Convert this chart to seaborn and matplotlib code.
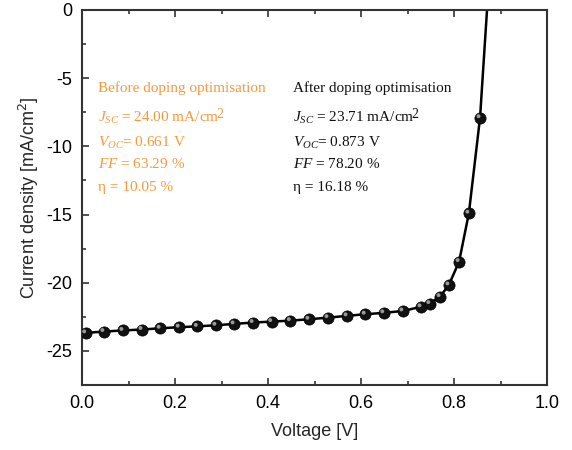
import numpy as np
import pandas as pd
import matplotlib
matplotlib.use("Agg")
import matplotlib.pyplot as plt
import matplotlib.transforms as mtransforms
from matplotlib.ticker import MultipleLocator
import seaborn as sns

# ---- data ----
voltage = [0.008, 0.047, 0.088, 0.129, 0.168, 0.209, 0.248, 0.288, 0.327, 0.368,
           0.408, 0.448, 0.488, 0.529, 0.570, 0.609, 0.649, 0.690, 0.729, 0.748,
           0.770, 0.789, 0.811, 0.832, 0.856]
current = [-23.68, -23.58, -23.50, -23.43, -23.34, -23.26, -23.20, -23.12, -23.02, -22.92,
           -22.85, -22.78, -22.68, -22.56, -22.43, -22.31, -22.21, -22.07, -21.77, -21.53,
           -21.02, -20.16, -18.45, -14.90, -7.90]
# curve continues through Voc and leaves the frame
voltage_ext = [0.871, 0.878]
current_ext = [0.0, 3.0]

before_lines = ["Before doping optimisation",
                r"$J_{SC}$ = 24.00 mA/cm",
                r"$V_{OC}$= 0.661 V",
                r"$FF$ = 63.29 %",
                "η = 10.05 %"]
after_lines = ["After doping optimisation",
               r"$J_{SC}$ = 23.71 mA/cm",
               r"$V_{OC}$= 0.873 V",
               r"$FF$ = 78.20 %",
               "η = 16.18 %"]
superscript_line = 1
superscript_text = "2"

x_ticks = [0.0, 0.2, 0.4, 0.6, 0.8, 1.0]
y_ticks = [0, -5, -10, -15, -20, -25]

sns.set_style("ticks")
plt.rcParams["font.family"] = ["Liberation Sans", "DejaVu Sans"]
plt.rcParams["mathtext.fontset"] = "custom"
plt.rcParams["mathtext.rm"] = "Liberation Serif"
plt.rcParams["mathtext.it"] = "Liberation Serif:italic"
plt.rcParams["mathtext.bf"] = "Liberation Serif:bold"

df_pts = pd.DataFrame({"V": voltage, "J": current})
df_line = pd.DataFrame({"V": voltage + voltage_ext, "J": current + current_ext})

fig = plt.figure(figsize=(5.72, 4.5), dpi=100)
ax = fig.add_axes([82/572, 65/450, 465/572, 375/450])

sns.lineplot(data=df_line, x="V", y="J", ax=ax, color="black", lw=1.8, sort=False,
             estimator=None)
sns.scatterplot(data=df_pts, x="V", y="J", ax=ax, color="#111111", s=65,
                edgecolor="#000000", linewidth=0.5, zorder=3)
# highlight for a glossy sphere look
hl = ax.transData + mtransforms.ScaledTranslation(-1.1/72, 1.1/72, fig.dpi_scale_trans)
ax.scatter(voltage, current, s=8, color="#9a9a9a", edgecolor="none", zorder=4,
           transform=hl)

ax.set_xlim(0.0, 1.0)
ax.set_ylim(-27.5, 0)
ax.set_xticks(x_ticks)
ax.set_yticks(y_ticks)
ax.set_xticklabels([f"{t:.1f}" for t in x_ticks])
ax.set_yticklabels([f"{t:d}" for t in y_ticks])
ax.xaxis.set_minor_locator(MultipleLocator(0.1))
ax.yaxis.set_minor_locator(MultipleLocator(2.5))
ax.tick_params(axis="both", which="both", direction="in", colors="#333333",
               labelcolor="black", labelsize=13, top=True, right=False, width=1.2)
ax.tick_params(which="major", length=5, pad=7)
ax.tick_params(which="minor", length=3)
for sp in ax.spines.values():
    sp.set_visible(True)
    sp.set_color("#333333")
    sp.set_linewidth(1.5)

ax.set_xlabel("Voltage [V]", fontsize=13, labelpad=8)
ax.set_ylabel("Current density [mA/cm$^2$]", fontsize=13, labelpad=4)
ax.yaxis.label.set_math_fontfamily("dejavusans")

orange = "#F59A3C"
ys = [0.781, 0.701, 0.635, 0.579, 0.517]
serif = ["Liberation Serif", "DejaVu Serif"]
fig.canvas.draw()
renderer = fig.canvas.get_renderer()
for lines, x0, col in [(before_lines, 0.034, orange), (after_lines, 0.454, "#111111")]:
    for i, (txt, y) in enumerate(zip(lines, ys)):
        t = ax.text(x0, y, txt, transform=ax.transAxes, color=col, fontsize=11,
                    family=serif, va="baseline", ha="left")
        if i == superscript_line:
            bb = t.get_window_extent(renderer=renderer)
            xr = ax.transAxes.inverted().transform((bb.x1, bb.y0))[0]
            tr = mtransforms.offset_copy(ax.transAxes, fig=fig, x=-3.2, y=4.5,
                                         units="dots")
            ax.text(xr, y, superscript_text, transform=tr, color=col, fontsize=10,
                    family=serif, va="baseline", ha="left")

fig.savefig("out.png", dpi=100, facecolor="white")
